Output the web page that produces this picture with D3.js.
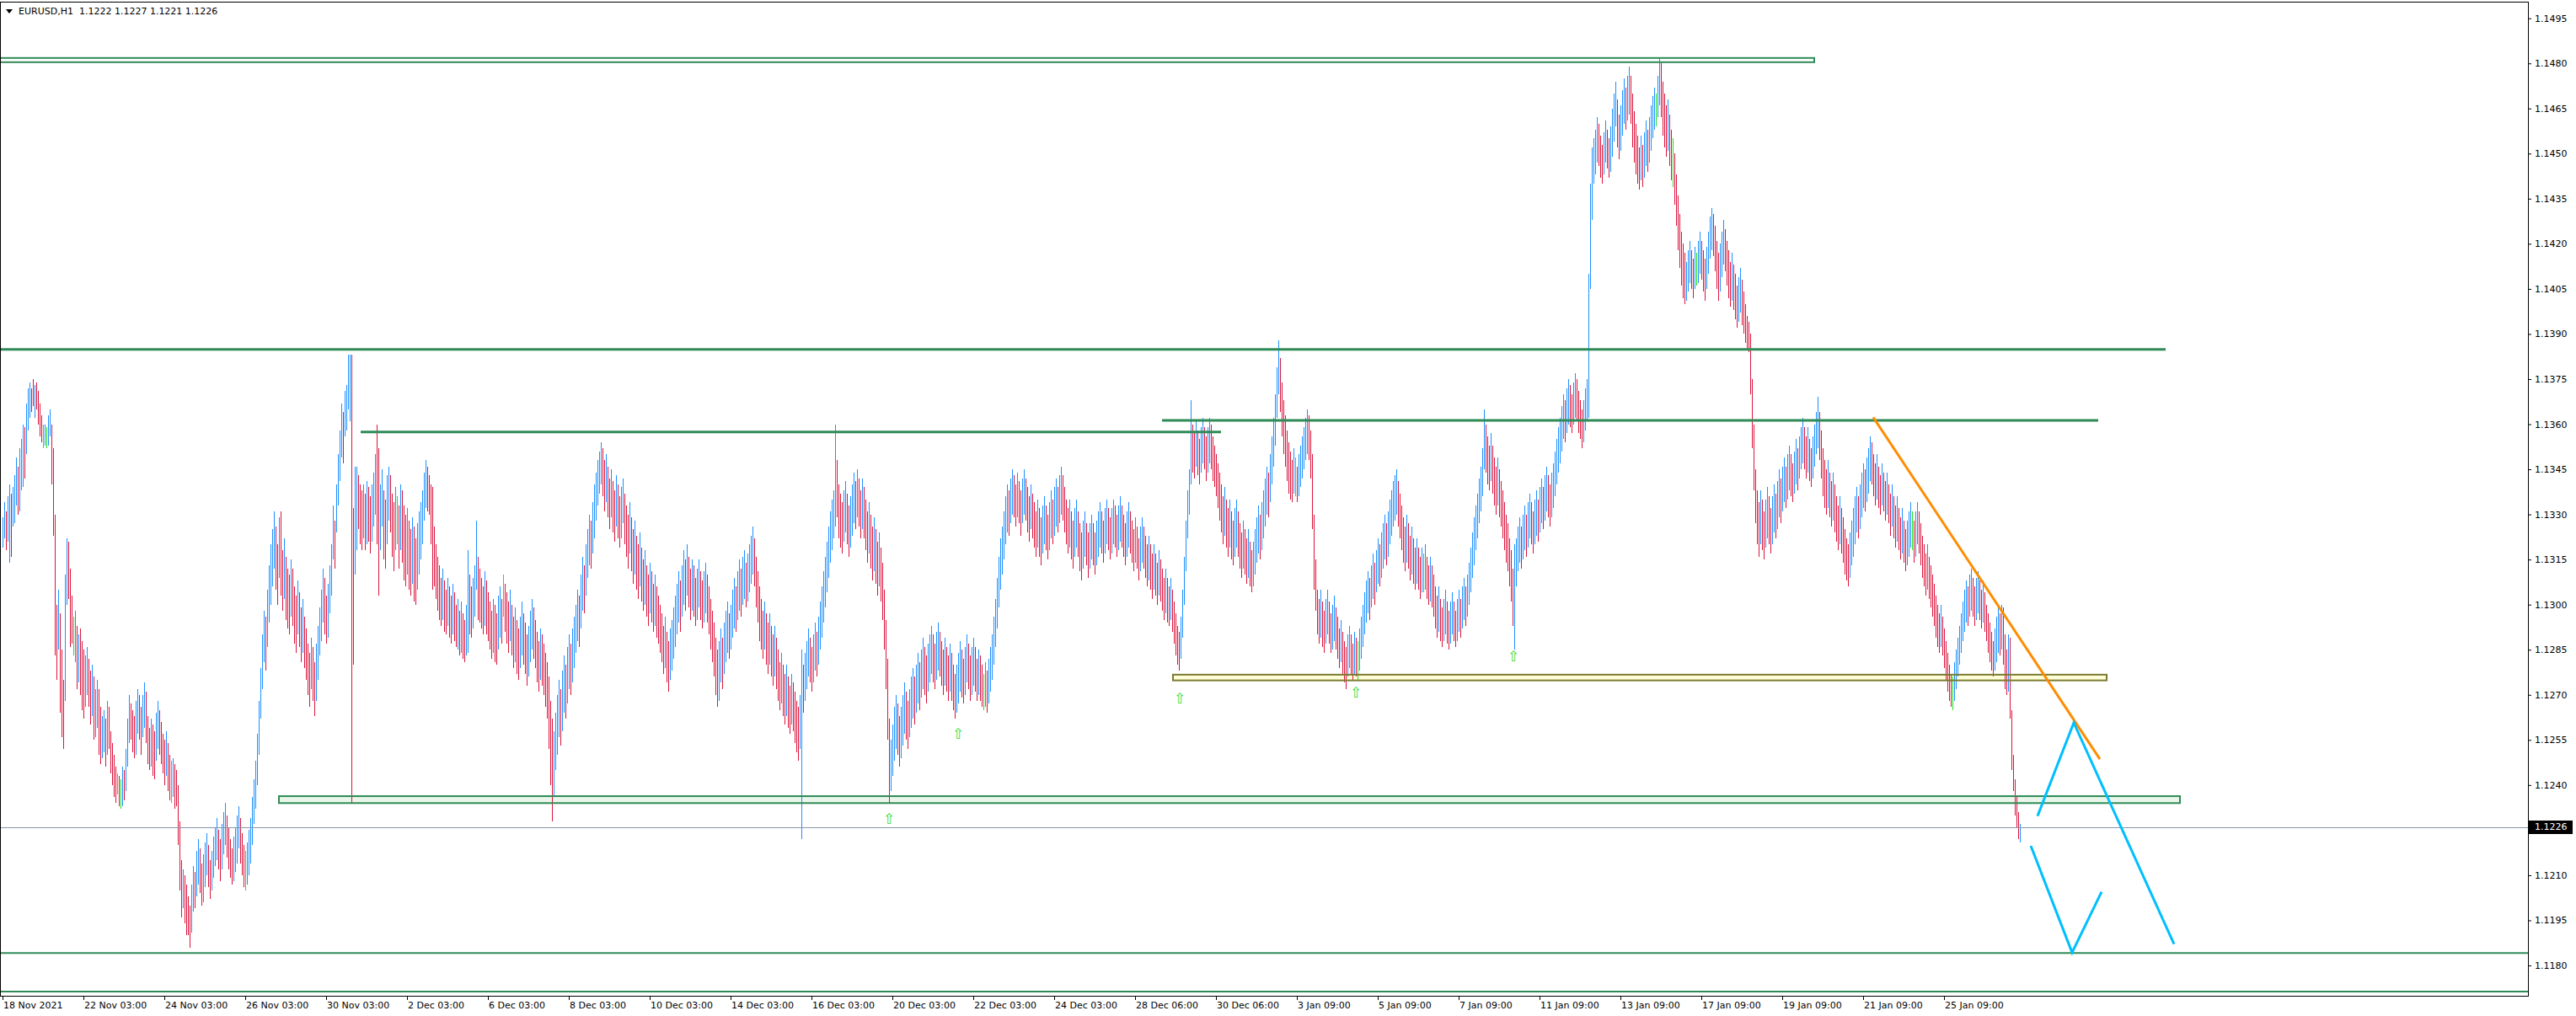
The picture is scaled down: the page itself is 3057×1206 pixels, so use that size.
<!DOCTYPE html>
<html><head><meta charset="utf-8">
<script src="https://cdn.jsdelivr.net/npm/d3@7"></script>
<style>html,body{margin:0;padding:0;background:#fff;overflow:hidden}</style>
</head><body>
<svg id="c" width="3057" height="1206"></svg>
<script>
// ---------- DATA ----------
const symbolTitle = "EURUSD,H1";
const lastOHLC = [1.1222, 1.1227, 1.1221, 1.1226];
const currentPrice = 1.1226;

// hourly bars (high / low / direction: 1 bull, -1 bear, 0 doji)
const highs = [
1.1329,1.1334,1.1331,1.1336,1.1340,1.1337,1.1339,1.1343,1.1349,1.1346,
1.1352,1.1355,1.1360,1.1359,1.1367,1.1372,1.1374,1.1372,1.1375,1.1373,
1.1374,1.1371,1.1367,1.1363,1.1360,1.1360,1.1359,1.1363,1.1365,1.1360,
1.1352,1.1330,1.1300,1.1305,1.1297,1.1285,1.1275,1.1310,1.1322,1.1321,
1.1312,1.1303,1.1296,1.1298,1.1293,1.1290,1.1292,1.1288,1.1285,1.1283,
1.1286,1.1282,1.1278,1.1280,1.1276,1.1272,1.1275,1.1272,1.1266,1.1263,
1.1265,1.1262,1.1268,1.1266,1.1258,1.1254,1.1250,1.1246,1.1244,1.1243,
1.1242,1.1246,1.1245,1.1252,1.1262,1.1270,1.1267,1.1265,1.1263,1.1268,
1.1272,1.1270,1.1266,1.1270,1.1274,1.1271,1.1263,1.1259,1.1262,1.1260,
1.1258,1.1264,1.1268,1.1265,1.1261,1.1257,1.1255,1.1258,1.1254,1.1250,
1.1248,1.1249,1.1247,1.1245,1.1240,1.1228,1.1215,1.1212,1.1210,1.1207,
1.1203,1.1200,1.1207,1.1213,1.1211,1.1218,1.1222,1.1219,1.1214,1.1217,
1.1221,1.1224,1.1220,1.1215,1.1218,1.1223,1.1226,1.1229,1.1225,1.1222,
1.1227,1.1231,1.1234,1.1230,1.1226,1.1222,1.1219,1.1223,1.1226,1.1230,
1.1233,1.1229,1.1224,1.1220,1.1218,1.1221,1.1225,1.1229,1.1236,1.1242,
1.1248,1.1257,1.1268,1.1279,1.1290,1.1298,1.1296,1.1305,1.1313,1.1320,
1.1325,1.1331,1.1326,1.1320,1.1329,1.1331,1.1318,1.1322,1.1316,1.1312,
1.1310,1.1315,1.1312,1.1306,1.1303,1.1308,1.1304,1.1299,1.1302,1.1296,
1.1292,1.1287,1.1284,1.1289,1.1286,1.1281,1.1287,1.1293,1.1299,1.1305,
1.1312,1.1309,1.1303,1.1307,1.1313,1.1320,1.1333,1.1328,1.1340,1.1350,
1.1358,1.1367,1.1364,1.1371,1.1373,1.1383,1.1383,1.1383,1.1332,1.1346,
1.1346,1.1343,1.1340,1.1338,1.1340,1.1337,1.1341,1.1339,1.1336,1.1340,
1.1344,1.1350,1.1360,1.1352,1.1340,1.1345,1.1338,1.1335,1.1343,1.1346,
1.1343,1.1337,1.1334,1.1339,1.1336,1.1333,1.1340,1.1338,1.1333,1.1330,
1.1332,1.1328,1.1325,1.1329,1.1326,1.1322,1.1327,1.1331,1.1334,1.1338,
1.1344,1.1348,1.1346,1.1343,1.1340,1.1339,1.1326,1.1320,1.1316,1.1313,
1.1309,1.1312,1.1308,1.1305,1.1309,1.1306,1.1303,1.1307,1.1304,1.1300,
1.1302,1.1298,1.1301,1.1297,1.1295,1.1300,1.1318,1.1310,1.1306,1.1309,
1.1313,1.1328,1.1316,1.1312,1.1309,1.1306,1.1311,1.1308,1.1304,1.1301,
1.1298,1.1302,1.1300,1.1297,1.1303,1.1306,1.1302,1.1310,1.1307,1.1304,
1.1301,1.1305,1.1300,1.1296,1.1299,1.1295,1.1292,1.1296,1.1301,1.1297,
1.1294,1.1290,1.1293,1.1298,1.1302,1.1299,1.1295,1.1291,1.1288,1.1292,
1.1290,1.1287,1.1284,1.1281,1.1276,1.1268,1.1262,1.1258,1.1264,1.1270,
1.1275,1.1272,1.1278,1.1283,1.1280,1.1286,1.1290,1.1287,1.1292,1.1296,
1.1300,1.1305,1.1303,1.1310,1.1316,1.1313,1.1320,1.1325,1.1330,1.1328,
1.1334,1.1340,1.1344,1.1348,1.1351,1.1354,1.1352,1.1348,1.1350,1.1346,
1.1342,1.1345,1.1341,1.1338,1.1343,1.1340,1.1336,1.1339,1.1342,1.1337,
1.1333,1.1330,1.1334,1.1329,1.1325,1.1328,1.1323,1.1320,1.1324,1.1319,
1.1315,1.1318,1.1313,1.1310,1.1314,1.1311,1.1307,1.1310,1.1306,1.1303,
1.1300,1.1297,1.1293,1.1296,1.1291,1.1288,1.1292,1.1295,1.1299,1.1303,
1.1307,1.1311,1.1308,1.1313,1.1318,1.1315,1.1320,1.1316,1.1312,1.1315,
1.1313,1.1309,1.1312,1.1315,1.1311,1.1308,1.1311,1.1314,1.1310,1.1306,
1.1302,1.1298,1.1294,1.1289,1.1285,1.1288,1.1292,1.1289,1.1294,1.1298,
1.1301,1.1297,1.1300,1.1305,1.1309,1.1306,1.1311,1.1315,1.1312,1.1316,
1.1318,1.1314,1.1317,1.1320,1.1323,1.1326,1.1322,1.1316,1.1311,1.1306,
1.1302,1.1298,1.1301,1.1297,1.1294,1.1297,1.1293,1.1290,1.1293,1.1289,
1.1285,1.1281,1.1284,1.1280,1.1277,1.1280,1.1276,1.1273,1.1277,1.1274,
1.1271,1.1268,1.1266,1.1270,1.1285,1.1280,1.1284,1.1288,1.1292,1.1289,
1.1286,1.1290,1.1294,1.1291,1.1296,1.1301,1.1306,1.1311,1.1316,1.1321,
1.1326,1.1331,1.1335,1.1338,1.1360,1.1348,1.1340,1.1337,1.1334,1.1338,
1.1341,1.1337,1.1333,1.1336,1.1340,1.1344,1.1341,1.1345,1.1342,1.1338,
1.1342,1.1339,1.1335,1.1331,1.1334,1.1330,1.1326,1.1329,1.1325,1.1321,
1.1324,1.1319,1.1314,1.1305,1.1295,1.1282,1.1262,1.1255,1.1260,1.1266,
1.1270,1.1267,1.1263,1.1266,1.1270,1.1274,1.1271,1.1268,1.1272,1.1276,
1.1279,1.1276,1.1280,1.1284,1.1281,1.1285,1.1289,1.1286,1.1283,1.1287,
1.1290,1.1293,1.1290,1.1287,1.1291,1.1294,1.1291,1.1288,1.1285,1.1289,
1.1286,1.1283,1.1287,1.1284,1.1280,1.1277,1.1280,1.1284,1.1288,1.1285,
1.1282,1.1286,1.1290,1.1287,1.1283,1.1286,1.1289,1.1286,1.1282,1.1285,
1.1283,1.1280,1.1277,1.1281,1.1278,1.1282,1.1286,1.1290,1.1296,1.1302,
1.1309,1.1316,1.1322,1.1326,1.1331,1.1336,1.1340,1.1338,1.1342,1.1345,
1.1343,1.1340,1.1344,1.1341,1.1338,1.1342,1.1345,1.1342,1.1339,1.1336,
1.1340,1.1337,1.1334,1.1331,1.1335,1.1332,1.1329,1.1333,1.1336,1.1333,
1.1330,1.1334,1.1338,1.1335,1.1339,1.1342,1.1339,1.1343,1.1346,1.1343,
1.1339,1.1335,1.1332,1.1335,1.1331,1.1328,1.1332,1.1335,1.1331,1.1327,
1.1324,1.1328,1.1331,1.1327,1.1324,1.1327,1.1330,1.1327,1.1324,1.1328,
1.1331,1.1334,1.1331,1.1328,1.1332,1.1335,1.1332,1.1329,1.1332,1.1335,
1.1333,1.1330,1.1333,1.1336,1.1333,1.1330,1.1327,1.1331,1.1334,1.1331,
1.1328,1.1325,1.1329,1.1326,1.1322,1.1326,1.1329,1.1326,1.1323,1.1320,
1.1323,1.1320,1.1317,1.1320,1.1317,1.1314,1.1318,1.1315,1.1312,1.1309,
1.1312,1.1309,1.1306,1.1309,1.1305,1.1301,1.1297,1.1293,1.1291,1.1296,
1.1305,1.1316,1.1328,1.1338,1.1345,1.1368,1.1360,1.1357,1.1361,1.1358,
1.1355,1.1359,1.1362,1.1359,1.1356,1.1359,1.1362,1.1360,1.1356,1.1353,
1.1350,1.1347,1.1344,1.1340,1.1336,1.1339,1.1335,1.1332,1.1335,1.1331,
1.1328,1.1332,1.1335,1.1331,1.1327,1.1324,1.1328,1.1325,1.1322,1.1325,
1.1321,1.1318,1.1321,1.1325,1.1329,1.1333,1.1330,1.1334,1.1338,1.1342,
1.1346,1.1344,1.1350,1.1356,1.1362,1.1370,1.1379,1.1388,1.1382,1.1374,
1.1368,1.1363,1.1358,1.1354,1.1351,1.1348,1.1352,1.1349,1.1346,1.1350,
1.1353,1.1356,1.1359,1.1362,1.1365,1.1363,1.1358,1.1350,1.1330,1.1315,
1.1305,1.1302,1.1305,1.1301,1.1298,1.1302,1.1305,1.1301,1.1297,1.1300,
1.1303,1.1299,1.1296,1.1292,1.1295,1.1291,1.1288,1.1286,1.1290,1.1293,
1.1290,1.1287,1.1291,1.1289,1.1288,1.1292,1.1296,1.1300,1.1304,1.1308,
1.1311,1.1309,1.1313,1.1317,1.1314,1.1318,1.1322,1.1320,1.1324,1.1327,
1.1330,1.1327,1.1331,1.1335,1.1338,1.1341,1.1343,1.1345,1.1341,1.1337,
1.1333,1.1329,1.1326,1.1330,1.1327,1.1323,1.1326,1.1322,1.1319,1.1322,
1.1319,1.1316,1.1319,1.1317,1.1320,1.1316,1.1313,1.1316,1.1313,1.1310,
1.1306,1.1303,1.1306,1.1302,1.1299,1.1302,1.1305,1.1301,1.1298,1.1301,
1.1304,1.1301,1.1298,1.1302,1.1305,1.1302,1.1306,1.1309,1.1306,1.1310,
1.1314,1.1319,1.1324,1.1329,1.1333,1.1337,1.1342,1.1346,1.1352,1.1365,
1.1360,1.1356,1.1353,1.1357,1.1353,1.1349,1.1346,1.1349,1.1345,1.1341,
1.1338,1.1334,1.1330,1.1327,1.1322,1.1318,1.1312,1.1320,1.1322,1.1326,
1.1329,1.1326,1.1330,1.1333,1.1330,1.1334,1.1337,1.1334,1.1331,1.1335,
1.1338,1.1335,1.1339,1.1342,1.1339,1.1343,1.1346,1.1343,1.1340,1.1344,
1.1347,1.1351,1.1355,1.1359,1.1362,1.1366,1.1370,1.1368,1.1372,1.1375,
1.1373,1.1370,1.1374,1.1377,1.1375,1.1371,1.1368,1.1365,1.1368,1.1372,
1.1375,1.1410,1.1440,1.1452,1.1455,1.1458,1.1462,1.1460,1.1456,1.1453,
1.1457,1.1461,1.1458,1.1455,1.1459,1.1465,1.1470,1.1474,1.1468,1.1463,
1.1466,1.1471,1.1475,1.1472,1.1476,1.1479,1.1476,1.1470,1.1464,1.1460,
1.1456,1.1452,1.1456,1.1453,1.1457,1.1461,1.1458,1.1462,1.1466,1.1469,
1.1472,1.1470,1.1476,1.1482,1.1480,1.1474,1.1470,1.1466,1.1468,1.1463,
1.1458,1.1455,1.1450,1.1443,1.1436,1.1430,1.1424,1.1420,1.1417,1.1414,
1.1418,1.1421,1.1418,1.1415,1.1419,1.1417,1.1421,1.1424,1.1421,1.1418,
1.1415,1.1419,1.1424,1.1429,1.1432,1.1430,1.1426,1.1421,1.1417,1.1420,
1.1424,1.1428,1.1425,1.1421,1.1418,1.1414,1.1417,1.1413,1.1410,1.1406,
1.1409,1.1412,1.1408,1.1404,1.1400,1.1396,1.1394,1.1390,1.1375,1.1360,
1.1345,1.1338,1.1334,1.1338,1.1335,1.1331,1.1335,1.1339,1.1336,1.1332,
1.1336,1.1340,1.1337,1.1341,1.1345,1.1342,1.1346,1.1349,1.1346,1.1350,
1.1353,1.1350,1.1347,1.1351,1.1355,1.1352,1.1356,1.1359,1.1362,1.1359,
1.1356,1.1359,1.1355,1.1352,1.1356,1.1360,1.1364,1.1369,1.1364,1.1358,
1.1352,1.1348,1.1345,1.1348,1.1344,1.1341,1.1344,1.1340,1.1336,1.1333,
1.1336,1.1332,1.1329,1.1325,1.1322,1.1320,1.1324,1.1328,1.1332,1.1336,
1.1339,1.1336,1.1340,1.1344,1.1347,1.1345,1.1349,1.1352,1.1356,1.1354,
1.1350,1.1347,1.1350,1.1346,1.1343,1.1347,1.1344,1.1341,1.1344,1.1340,
1.1337,1.1340,1.1336,1.1333,1.1336,1.1332,1.1329,1.1332,1.1328,1.1325,
1.1328,1.1331,1.1334,1.1331,1.1328,1.1331,1.1334,1.1331,1.1327,1.1323,
1.1320,1.1317,1.1320,1.1316,1.1313,1.1310,1.1307,1.1303,1.1300,1.1297,
1.1300,1.1296,1.1292,1.1288,1.1284,1.1280,1.1277,1.1276,1.1281,1.1285,
1.1289,1.1293,1.1297,1.1301,1.1305,1.1308,1.1306,1.1310,1.1312,1.1309,
1.1306,1.1309,1.1311,1.1308,1.1305,1.1308,1.1304,1.1300,1.1297,1.1294,
1.1291,1.1288,1.1292,1.1296,1.1299,1.1297,1.1300,1.1299,1.1290,1.1285,
1.1290,1.1289,1.1265,1.1250,1.1242,1.1236,1.1231,1.1227];

const lows = [
1.1319,1.1322,1.1318,1.1321,1.1314,1.1316,1.1326,1.1327,1.1333,1.1330,
1.1331,1.1338,1.1339,1.1342,1.1350,1.1358,1.1362,1.1364,1.1366,1.1362,
1.1365,1.1360,1.1356,1.1354,1.1352,1.1353,1.1352,1.1353,1.1356,1.1340,
1.1323,1.1283,1.1275,1.1285,1.1264,1.1256,1.1252,1.1268,1.1300,1.1302,
1.1286,1.1287,1.1283,1.1281,1.1272,1.1274,1.1270,1.1265,1.1262,1.1266,
1.1270,1.1266,1.1260,1.1263,1.1255,1.1256,1.1259,1.1250,1.1247,1.1249,
1.1251,1.1246,1.1250,1.1252,1.1244,1.1240,1.1236,1.1234,1.1237,1.1233,
1.1232,1.1233,1.1235,1.1238,1.1246,1.1254,1.1255,1.1251,1.1249,1.1250,
1.1257,1.1255,1.1250,1.1256,1.1259,1.1254,1.1247,1.1245,1.1246,1.1243,
1.1242,1.1248,1.1252,1.1250,1.1247,1.1244,1.1240,1.1243,1.1238,1.1235,
1.1234,1.1236,1.1232,1.1233,1.1220,1.1205,1.1196,1.1199,1.1194,1.1190,
1.1190,1.1186,1.1191,1.1198,1.1199,1.1203,1.1207,1.1204,1.1200,1.1201,
1.1206,1.1210,1.1206,1.1202,1.1205,1.1209,1.1213,1.1215,1.1212,1.1208,
1.1212,1.1217,1.1220,1.1216,1.1212,1.1209,1.1207,1.1208,1.1211,1.1214,
1.1219,1.1214,1.1210,1.1206,1.1205,1.1207,1.1210,1.1214,1.1220,1.1227,
1.1232,1.1240,1.1250,1.1262,1.1272,1.1281,1.1278,1.1286,1.1294,1.1300,
1.1306,1.1312,1.1305,1.1300,1.1309,1.1303,1.1298,1.1302,1.1295,1.1292,
1.1290,1.1296,1.1293,1.1287,1.1284,1.1290,1.1286,1.1281,1.1284,1.1279,
1.1275,1.1270,1.1266,1.1272,1.1268,1.1263,1.1268,1.1275,1.1283,1.1288,
1.1294,1.1290,1.1287,1.1289,1.1297,1.1303,1.1315,1.1312,1.1324,1.1333,
1.1341,1.1349,1.1347,1.1356,1.1358,1.1365,1.1361,1.1234,1.1280,1.1310,
1.1318,1.1325,1.1320,1.1318,1.1322,1.1318,1.1320,1.1321,1.1317,1.1321,
1.1326,1.1330,1.1320,1.1303,1.1318,1.1326,1.1315,1.1312,1.1320,1.1328,
1.1324,1.1316,1.1311,1.1318,1.1320,1.1312,1.1318,1.1314,1.1308,1.1306,
1.1310,1.1305,1.1303,1.1307,1.1301,1.1300,1.1305,1.1310,1.1315,1.1320,
1.1328,1.1332,1.1331,1.1330,1.1320,1.1305,1.1306,1.1302,1.1298,1.1295,
1.1293,1.1295,1.1291,1.1290,1.1293,1.1289,1.1287,1.1290,1.1288,1.1286,
1.1285,1.1283,1.1284,1.1282,1.1281,1.1283,1.1284,1.1290,1.1289,1.1292,
1.1296,1.1305,1.1295,1.1294,1.1292,1.1290,1.1293,1.1290,1.1288,1.1285,
1.1282,1.1284,1.1281,1.1280,1.1285,1.1289,1.1287,1.1296,1.1291,1.1287,
1.1284,1.1288,1.1283,1.1279,1.1281,1.1277,1.1275,1.1279,1.1283,1.1280,
1.1277,1.1273,1.1276,1.1281,1.1285,1.1282,1.1279,1.1274,1.1271,1.1275,
1.1273,1.1270,1.1266,1.1262,1.1252,1.1240,1.1228,1.1236,1.1245,1.1250,
1.1256,1.1253,1.1258,1.1264,1.1262,1.1267,1.1272,1.1270,1.1274,1.1279,
1.1284,1.1288,1.1286,1.1292,1.1298,1.1297,1.1303,1.1309,1.1313,1.1312,
1.1317,1.1322,1.1328,1.1333,1.1337,1.1340,1.1336,1.1331,1.1334,1.1329,
1.1325,1.1329,1.1324,1.1321,1.1326,1.1322,1.1319,1.1322,1.1327,1.1320,
1.1316,1.1312,1.1317,1.1311,1.1307,1.1310,1.1305,1.1302,1.1306,1.1301,
1.1298,1.1300,1.1296,1.1293,1.1297,1.1294,1.1291,1.1293,1.1289,1.1287,
1.1284,1.1281,1.1277,1.1279,1.1274,1.1271,1.1275,1.1278,1.1282,1.1286,
1.1290,1.1294,1.1291,1.1296,1.1300,1.1298,1.1303,1.1299,1.1295,1.1298,
1.1296,1.1293,1.1295,1.1299,1.1295,1.1292,1.1294,1.1297,1.1294,1.1290,
1.1285,1.1281,1.1276,1.1270,1.1266,1.1268,1.1274,1.1272,1.1277,1.1281,
1.1284,1.1282,1.1285,1.1289,1.1292,1.1291,1.1295,1.1298,1.1296,1.1300,
1.1302,1.1299,1.1301,1.1304,1.1307,1.1310,1.1306,1.1299,1.1294,1.1288,
1.1285,1.1282,1.1285,1.1280,1.1277,1.1280,1.1276,1.1273,1.1276,1.1272,
1.1268,1.1265,1.1267,1.1263,1.1260,1.1263,1.1259,1.1257,1.1260,1.1258,
1.1254,1.1251,1.1248,1.1252,1.1222,1.1264,1.1268,1.1272,1.1276,1.1274,
1.1271,1.1274,1.1278,1.1276,1.1280,1.1285,1.1289,1.1294,1.1299,1.1304,
1.1309,1.1314,1.1318,1.1322,1.1326,1.1329,1.1322,1.1319,1.1317,1.1321,
1.1324,1.1320,1.1316,1.1319,1.1323,1.1327,1.1325,1.1329,1.1326,1.1322,
1.1325,1.1322,1.1318,1.1314,1.1317,1.1312,1.1308,1.1311,1.1307,1.1303,
1.1306,1.1301,1.1295,1.1285,1.1272,1.1255,1.1234,1.1238,1.1243,1.1248,
1.1252,1.1250,1.1246,1.1249,1.1253,1.1257,1.1255,1.1252,1.1256,1.1259,
1.1262,1.1260,1.1264,1.1267,1.1265,1.1269,1.1272,1.1270,1.1267,1.1271,
1.1274,1.1277,1.1274,1.1272,1.1275,1.1278,1.1276,1.1273,1.1270,1.1273,
1.1271,1.1268,1.1271,1.1268,1.1265,1.1262,1.1264,1.1267,1.1271,1.1269,
1.1267,1.1270,1.1274,1.1272,1.1268,1.1270,1.1273,1.1271,1.1268,1.1270,
1.1268,1.1266,1.1265,1.1266,1.1264,1.1267,1.1271,1.1275,1.1280,1.1286,
1.1292,1.1299,1.1305,1.1310,1.1315,1.1320,1.1324,1.1323,1.1327,1.1330,
1.1329,1.1326,1.1329,1.1327,1.1323,1.1327,1.1330,1.1328,1.1324,1.1321,
1.1325,1.1322,1.1319,1.1316,1.1319,1.1316,1.1313,1.1317,1.1320,1.1318,
1.1315,1.1318,1.1322,1.1320,1.1323,1.1326,1.1324,1.1327,1.1330,1.1328,
1.1324,1.1320,1.1317,1.1319,1.1315,1.1312,1.1316,1.1319,1.1316,1.1311,
1.1308,1.1312,1.1316,1.1313,1.1309,1.1312,1.1315,1.1313,1.1310,1.1313,
1.1316,1.1319,1.1317,1.1314,1.1317,1.1320,1.1318,1.1315,1.1317,1.1320,
1.1319,1.1316,1.1318,1.1321,1.1319,1.1316,1.1313,1.1316,1.1319,1.1317,
1.1314,1.1311,1.1314,1.1312,1.1308,1.1311,1.1314,1.1312,1.1309,1.1306,
1.1308,1.1305,1.1302,1.1305,1.1303,1.1300,1.1303,1.1301,1.1298,1.1295,
1.1297,1.1294,1.1293,1.1295,1.1291,1.1287,1.1283,1.1280,1.1278,1.1282,
1.1289,1.1300,1.1311,1.1322,1.1330,1.1340,1.1344,1.1342,1.1346,1.1343,
1.1340,1.1344,1.1347,1.1345,1.1341,1.1344,1.1347,1.1345,1.1341,1.1339,
1.1336,1.1332,1.1328,1.1324,1.1320,1.1323,1.1319,1.1316,1.1319,1.1315,
1.1313,1.1316,1.1319,1.1316,1.1312,1.1309,1.1312,1.1310,1.1307,1.1309,
1.1306,1.1304,1.1306,1.1310,1.1314,1.1317,1.1315,1.1318,1.1322,1.1326,
1.1330,1.1329,1.1334,1.1340,1.1346,1.1353,1.1362,1.1370,1.1364,1.1356,
1.1350,1.1346,1.1341,1.1337,1.1335,1.1334,1.1337,1.1336,1.1334,1.1336,
1.1339,1.1342,1.1345,1.1348,1.1350,1.1348,1.1342,1.1325,1.1305,1.1298,
1.1290,1.1287,1.1289,1.1286,1.1284,1.1287,1.1290,1.1287,1.1284,1.1285,
1.1288,1.1285,1.1282,1.1279,1.1281,1.1277,1.1274,1.1272,1.1276,1.1279,
1.1277,1.1275,1.1277,1.1276,1.1275,1.1278,1.1282,1.1286,1.1290,1.1294,
1.1297,1.1295,1.1299,1.1302,1.1300,1.1304,1.1307,1.1306,1.1309,1.1312,
1.1315,1.1313,1.1316,1.1320,1.1323,1.1326,1.1328,1.1330,1.1326,1.1322,
1.1318,1.1314,1.1311,1.1314,1.1312,1.1308,1.1310,1.1307,1.1305,1.1307,
1.1305,1.1302,1.1304,1.1304,1.1305,1.1302,1.1300,1.1301,1.1299,1.1296,
1.1292,1.1289,1.1291,1.1288,1.1286,1.1288,1.1290,1.1287,1.1285,1.1287,
1.1290,1.1288,1.1286,1.1288,1.1291,1.1289,1.1292,1.1295,1.1293,1.1296,
1.1300,1.1304,1.1309,1.1313,1.1318,1.1322,1.1327,1.1331,1.1336,1.1345,
1.1344,1.1340,1.1338,1.1341,1.1337,1.1333,1.1330,1.1333,1.1329,1.1326,
1.1322,1.1318,1.1314,1.1311,1.1306,1.1301,1.1293,1.1285,1.1306,1.1311,
1.1314,1.1312,1.1315,1.1318,1.1316,1.1319,1.1322,1.1320,1.1317,1.1320,
1.1323,1.1321,1.1324,1.1327,1.1325,1.1328,1.1331,1.1329,1.1326,1.1329,
1.1332,1.1336,1.1340,1.1344,1.1347,1.1351,1.1355,1.1354,1.1357,1.1360,
1.1359,1.1357,1.1360,1.1362,1.1361,1.1357,1.1355,1.1352,1.1354,1.1358,
1.1361,1.1362,1.1405,1.1428,1.1440,1.1443,1.1447,1.1446,1.1442,1.1440,
1.1443,1.1447,1.1445,1.1442,1.1444,1.1449,1.1454,1.1459,1.1452,1.1448,
1.1451,1.1456,1.1460,1.1458,1.1461,1.1463,1.1460,1.1452,1.1447,1.1443,
1.1440,1.1438,1.1441,1.1439,1.1442,1.1446,1.1444,1.1447,1.1451,1.1455,
1.1458,1.1459,1.1462,1.1466,1.1462,1.1456,1.1452,1.1449,1.1451,1.1446,
1.1441,1.1439,1.1433,1.1426,1.1418,1.1412,1.1406,1.1402,1.1400,1.1401,
1.1404,1.1407,1.1405,1.1402,1.1405,1.1406,1.1407,1.1410,1.1408,1.1404,
1.1401,1.1405,1.1410,1.1415,1.1418,1.1416,1.1411,1.1405,1.1401,1.1404,
1.1409,1.1413,1.1411,1.1406,1.1402,1.1399,1.1401,1.1398,1.1395,1.1392,
1.1394,1.1397,1.1393,1.1390,1.1387,1.1385,1.1384,1.1370,1.1352,1.1338,
1.1327,1.1320,1.1316,1.1320,1.1318,1.1315,1.1319,1.1322,1.1320,1.1317,
1.1320,1.1324,1.1322,1.1325,1.1329,1.1327,1.1331,1.1334,1.1332,1.1335,
1.1338,1.1336,1.1334,1.1337,1.1340,1.1338,1.1342,1.1345,1.1347,1.1345,
1.1342,1.1344,1.1341,1.1339,1.1342,1.1346,1.1350,1.1352,1.1348,1.1342,
1.1336,1.1332,1.1330,1.1332,1.1329,1.1326,1.1328,1.1324,1.1321,1.1318,
1.1320,1.1317,1.1314,1.1310,1.1308,1.1306,1.1309,1.1313,1.1316,1.1320,
1.1324,1.1322,1.1325,1.1329,1.1332,1.1331,1.1334,1.1337,1.1341,1.1340,
1.1336,1.1333,1.1335,1.1332,1.1330,1.1333,1.1331,1.1328,1.1330,1.1327,
1.1323,1.1326,1.1322,1.1319,1.1321,1.1318,1.1315,1.1317,1.1314,1.1311,
1.1313,1.1316,1.1319,1.1318,1.1314,1.1316,1.1320,1.1317,1.1313,1.1309,
1.1306,1.1303,1.1305,1.1302,1.1299,1.1296,1.1293,1.1289,1.1286,1.1284,
1.1286,1.1283,1.1279,1.1275,1.1271,1.1268,1.1266,1.1265,1.1268,1.1272,
1.1276,1.1280,1.1284,1.1288,1.1291,1.1294,1.1293,1.1296,1.1298,1.1296,
1.1293,1.1295,1.1297,1.1295,1.1292,1.1294,1.1291,1.1288,1.1284,1.1281,
1.1278,1.1276,1.1278,1.1281,1.1284,1.1283,1.1285,1.1280,1.1272,1.1270,
1.1271,1.1262,1.1245,1.1238,1.1230,1.1226,1.1222,1.1221];

const dirs = [
1,1,-1,1,1,-1,1,1,1,-1, 1,1,1,-1,1,1,1,-1,-1,1, -1,-1,-1,-1,0,1,0,1,1,-1, -1,-1,-1,1,-1,-1,-1,1,1,-1,
-1,-1,0,1,-1,1,-1,-1,-1,1, 1,-1,-1,1,-1,1,1,-1,-1,1, 1,-1,1,-1,-1,-1,-1,-1,0,-1, 0,1,-1,1,1,1,-1,-1,-1,1,
1,-1,-1,1,1,-1,-1,-1,1,-1, -1,1,1,-1,-1,-1,-1,1,-1,-1, 0,1,-1,-1,-1,-1,-1,1,-1,-1, -1,-1,1,1,-1,1,1,-1,-1,1,
1,1,-1,-1,1,1,1,1,-1,-1, 1,1,1,-1,-1,-1,-1,1,1,1, 1,-1,-1,-1,0,1,1,1,1,1, 1,1,1,1,1,1,-1,1,1,1,
1,1,-1,-1,1,-1,-1,1,-1,-1, -1,1,-1,-1,-1,1,-1,-1,1,-1, -1,-1,-1,1,-1,-1,1,1,1,1, 1,-1,-1,1,1,1,1,-1,1,1,
1,1,-1,1,1,1,1,-1,-1,1, 1,-1,-1,-1,1,-1,1,-1,-1,1, 1,1,-1,-1,1,1,-1,-1,1,1, -1,-1,-1,1,0,-1,1,-1,-1,-1,
1,-1,-1,1,-1,-1,1,1,1,1, 1,1,-1,-1,-1,-1,-1,-1,-1,-1, -1,1,-1,-1,1,-1,-1,1,-1,-1, 1,-1,1,-1,-1,1,1,-1,-1,1,
1,1,-1,-1,-1,-1,1,-1,-1,-1, -1,1,-1,-1,1,1,-1,0,-1,-1, -1,1,-1,-1,1,-1,-1,1,1,-1, -1,-1,1,1,1,-1,-1,-1,-1,1,
-1,-1,-1,-1,-1,-1,-1,1,1,1, 1,-1,1,1,-1,1,1,-1,1,1, 1,1,-1,1,1,-1,1,1,1,-1, 1,1,1,1,1,1,-1,-1,1,-1,
-1,1,-1,-1,1,-1,-1,1,1,-1, -1,-1,1,-1,-1,1,-1,-1,1,-1, -1,1,-1,-1,1,-1,-1,1,-1,-1, -1,-1,-1,1,-1,-1,1,1,1,1,
1,1,-1,1,1,-1,1,-1,-1,1, -1,-1,1,1,-1,-1,1,1,-1,-1, -1,-1,-1,-1,-1,1,1,-1,1,1, 1,-1,1,1,1,-1,1,1,-1,1,
1,-1,1,1,1,1,-1,-1,-1,-1, -1,-1,1,-1,-1,1,-1,-1,1,-1, -1,-1,1,-1,-1,1,-1,-1,1,-1, -1,-1,-1,1,1,-1,1,1,1,-1,
-1,1,1,-1,1,1,1,1,1,1, 1,1,1,1,1,-1,-1,-1,-1,1, 1,-1,-1,1,1,1,-1,1,-1,-1, 1,-1,-1,-1,1,-1,-1,1,-1,-1,
1,-1,-1,-1,-1,-1,-1,1,1,1, 1,-1,-1,1,1,1,-1,-1,1,1, 1,-1,1,1,-1,1,1,-1,-1,1, 1,1,-1,-1,1,1,-1,-1,-1,1,
-1,-1,1,-1,-1,-1,1,1,1,-1, -1,1,1,-1,-1,1,1,-1,-1,1, -1,-1,0,1,-1,1,1,1,1,1, 1,1,1,1,1,1,1,-1,1,1,
-1,-1,1,-1,-1,1,1,-1,-1,-1, 1,-1,-1,-1,1,-1,-1,1,1,-1, -1,1,1,-1,1,1,-1,1,1,-1, -1,-1,-1,1,-1,-1,1,1,-1,-1,
-1,1,1,-1,-1,1,1,-1,-1,1, 1,1,-1,-1,1,1,-1,-1,1,1, -1,-1,1,1,-1,-1,-1,1,1,-1, -1,-1,1,-1,-1,1,1,-1,-1,-1,
1,-1,-1,1,-1,-1,1,-1,-1,-1, 1,-1,-1,1,-1,-1,-1,-1,-1,1, 1,1,1,1,1,1,-1,-1,1,-1, -1,1,1,-1,-1,1,1,-1,-1,-1,
-1,-1,-1,-1,-1,1,-1,-1,1,-1, -1,1,1,-1,-1,-1,1,-1,-1,1, -1,-1,1,1,1,1,-1,1,1,1, 1,-1,1,1,1,1,1,1,-1,-1,
-1,-1,-1,-1,-1,-1,1,0,-1,1, 1,1,1,1,1,-1,-1,-1,-1,-1, -1,-1,1,-1,-1,1,1,-1,-1,1, 1,-1,-1,-1,1,-1,-1,-1,1,1,
-1,-1,1,-1,0,1,1,1,1,1, 1,-1,1,1,-1,1,1,-1,1,1, 1,-1,1,1,1,1,1,1,-1,-1, -1,-1,-1,1,-1,-1,1,-1,-1,1,
-1,-1,1,0,1,-1,-1,1,-1,-1, -1,-1,1,-1,-1,1,1,-1,-1,1, 1,-1,-1,1,1,-1,1,1,-1,1, 1,1,1,1,1,1,1,1,1,1,
-1,-1,-1,1,-1,-1,-1,1,-1,-1, -1,-1,-1,-1,-1,-1,-1,1,1,1, 1,-1,1,1,-1,1,1,-1,-1,1, 1,-1,1,1,-1,1,1,-1,-1,1,
1,1,1,1,1,1,1,-1,1,1, -1,-1,1,1,-1,-1,-1,-1,1,1, 1,1,1,1,1,1,1,-1,-1,-1, 1,1,-1,-1,1,1,1,1,-1,-1,
1,1,1,-1,1,1,-1,-1,-1,-1, -1,-1,1,-1,1,1,-1,1,1,1, 1,0,1,1,-1,-1,-1,-1,1,-1, -1,0,-1,-1,-1,-1,-1,-1,-1,1,
1,1,-1,-1,1,0,1,1,-1,-1, -1,1,1,1,1,-1,-1,-1,-1,1, 1,1,-1,-1,-1,-1,1,-1,-1,-1, 1,1,-1,-1,-1,-1,-1,-1,-1,-1,
-1,-1,-1,1,-1,-1,1,1,-1,-1, 1,1,-1,1,1,-1,1,1,-1,1, 1,-1,-1,1,1,-1,1,1,1,-1, -1,1,-1,-1,1,1,1,1,-1,-1,
-1,-1,-1,1,-1,-1,1,-1,-1,-1, 1,-1,-1,-1,-1,-1,1,1,1,1, 1,-1,1,1,1,-1,1,1,1,-1, -1,-1,1,-1,-1,1,-1,-1,1,-1,
-1,1,-1,-1,1,-1,-1,1,-1,-1, 1,1,1,0,-1,1,1,-1,-1,-1, -1,-1,1,-1,-1,-1,-1,-1,-1,-1, 1,-1,-1,-1,-1,-1,-1,0,1,1,
1,1,1,1,1,1,-1,1,1,-1, -1,1,1,-1,-1,1,-1,-1,-1,-1, -1,-1,1,1,1,-1,1,-1,-1,-1, 1,-1,-1,-1,-1,-1,-1,1];

// time axis
const timeTickBars = [0,48,96,144,192,240,288,336,384,432,480,528,576,624,672,720,768,816,864,912,960,1008,1056,1104,1152];
const timeTickLabels = ["18 Nov 2021","22 Nov 03:00","24 Nov 03:00","26 Nov 03:00","30 Nov 03:00","2 Dec 03:00","6 Dec 03:00","8 Dec 03:00","10 Dec 03:00","14 Dec 03:00","16 Dec 03:00","20 Dec 03:00","22 Dec 03:00","24 Dec 03:00","28 Dec 06:00","30 Dec 06:00","3 Jan 09:00","5 Jan 09:00","7 Jan 09:00","11 Jan 09:00","13 Jan 09:00","17 Jan 09:00","19 Jan 09:00","21 Jan 09:00","25 Jan 09:00"];
// price axis
const priceTicks = [1.1495,1.1480,1.1465,1.1450,1.1435,1.1420,1.1405,1.1390,1.1375,1.1360,1.1345,1.1330,1.1315,1.1300,1.1285,1.1270,1.1255,1.1240,1.1225,1.1210,1.1195,1.1180];

// drawn objects (bar index, price)
const hLines = [
  {from:-1.5, to:1283.5, price:1.13849, w:3},
  {from:212.5, to:723, price:1.13574, w:3},
  {from:688, to:1243.5, price:1.13613, w:3},
  {from:-1.5, to:1498.5, price:1.11841, w:2},
  {from:-1.5, to:1498.5, price:1.11713, w:2}
];
const zoneRects = [
  {from:-1.5, to:1075, top:1.14818, bottom:1.14804, kind:"green", fill:"none"},
  {from:694.5, to:1248.5, top:1.12767, bottom:1.12748, kind:"yellow"},
  {from:164, to:1292, top:1.12363, bottom:1.12340, kind:"green"}
];
const trendOrange = [[1110, 1.13623],[1244.5, 1.12486]];
const projA = [[1207.5,1.12297],[1229,1.12607],[1288.5,1.11871]];
const projB = [[1203.5,1.12198],[1228,1.11843],[1245.5,1.12045]];
const arrowBars = [526, 567, 698.5, 803, 896.5];
const arrowPrices = [1.12285, 1.12568, 1.12686, 1.12706, 1.12826];

// ---------- DRAW ----------
const L = 0, R = 3000, T = 2, B = 1182;
const FONT = "DejaVu Sans, Verdana, sans-serif";
const bull = "#1E90FF", bear = "#DC143C", doji = "#22E022";
const green = "#2E8B57";

const svg = d3.select("#c");
const x = d3.scaleLinear().domain([0, 1498.5]).range([3, 3000]);
const y = d3.scaleLinear().domain([1.1180, 1.1495]).range([1146, 21.7]);

svg.append("defs").append("clipPath").attr("id","clip")
  .append("rect").attr("x",L).attr("y",T).attr("width",R-L).attr("height",B-T);

const plot = svg.append("g").attr("clip-path","url(#clip)");

// rect fills (background)
plot.selectAll("rect.zfill").data(zoneRects).join("rect").attr("class","zfill")
  .attr("x", d=>x(d.from)).attr("y", d=>y(d.top))
  .attr("width", d=>x(d.to)-x(d.from)).attr("height", d=>y(d.bottom)-y(d.top))
  .attr("fill", d=> d.fill==="none" ? "#fff" : (d.kind==="yellow" ? "#FFFFD8" : "#EAF6EA"));

// bars
const bars = highs.map((h,i)=>({i, h, l: lows[i], d: dirs[i]}));
plot.append("g").selectAll("rect").data(bars).join("rect")
  .attr("x", d=>Math.round(x(d.i)))
  .attr("y", d=>Math.round(y(d.h)))
  .attr("width", 1)
  .attr("height", d=>Math.max(1, Math.round(y(d.l))-Math.round(y(d.h))))
  .attr("fill", d=> d.d>0 ? bull : (d.d<0 ? bear : doji))
  .attr("shape-rendering","crispEdges");

// current price line
plot.append("line").attr("x1",L).attr("x2",R)
  .attr("y1",Math.round(y(currentPrice))+0.5).attr("y2",Math.round(y(currentPrice))+0.5)
  .attr("stroke","#8497A8").attr("stroke-width",1);

// horizontal levels
plot.selectAll("line.lvl").data(hLines).join("line").attr("class","lvl")
  .attr("x1", d=>x(d.from)).attr("x2", d=>x(d.to))
  .attr("y1", d=>y(d.price)).attr("y2", d=>y(d.price))
  .attr("stroke", green).attr("stroke-width", d=>d.w);

// rect outlines
plot.selectAll("rect.zout").data(zoneRects).join("rect").attr("class","zout")
  .attr("x", d=>x(d.from)).attr("y", d=>y(d.top))
  .attr("width", d=>x(d.to)-x(d.from)).attr("height", d=>y(d.bottom)-y(d.top))
  .attr("fill","none")
  .attr("stroke", d=> d.kind==="yellow" ? "#7A7A32" : green).attr("stroke-width",2);

// trend & projection lines
const ln = d3.line().x(d=>x(d[0])).y(d=>y(d[1]));
plot.append("path").attr("d", ln(trendOrange)).attr("fill","none").attr("stroke","#FF8C00").attr("stroke-width",3);
[projA, projB].forEach(p=>{
  plot.append("path").attr("d", ln(p)).attr("fill","none").attr("stroke","#00BFFF").attr("stroke-width",3)
    .attr("stroke-linejoin","miter");
});

// arrows
plot.selectAll("text.arr").data(arrowBars).join("text").attr("class","arr")
  .attr("x", d=>x(d)).attr("y", (d,k)=>y(arrowPrices[k]))
  .attr("text-anchor","middle").attr("dominant-baseline","middle")
  .attr("font-family", FONT).attr("font-size", 17).attr("fill","#33DD33")
  .text("\u21E7");

// frame
svg.append("rect").attr("x",0.5).attr("y",T+0.5).attr("width",R-0.5).attr("height",B-T)
  .attr("fill","none").attr("stroke","#000").attr("stroke-width",1).attr("shape-rendering","crispEdges");

// bottom time axis
const xAxis = svg.append("g").attr("transform",`translate(0,${B})`);
xAxis.selectAll("line").data(timeTickBars).join("line")
  .attr("x1", d=>Math.round(x(d))+0.5).attr("x2", d=>Math.round(x(d))+0.5)
  .attr("y1",0).attr("y2",5).attr("stroke","#000");
xAxis.selectAll("text").data(timeTickBars).join("text")
  .attr("x", d=>Math.round(x(d))+1).attr("y",15)
  .attr("font-family",FONT).attr("font-size",11).attr("fill","#000")
  .text((d,k)=>timeTickLabels[k]);

// right price axis
const yAxis = d3.axisRight(y).tickValues(priceTicks).tickFormat(d3.format(".4f")).tickSize(4).tickPadding(4);
const ya = svg.append("g").attr("transform",`translate(${R},0)`).call(yAxis);
ya.select(".domain").remove();
ya.selectAll("text").attr("font-family",FONT).attr("font-size",11).attr("fill","#000");
ya.selectAll("line").attr("stroke","#000");

// current price label
const cy = Math.round(y(currentPrice));
svg.append("rect").attr("x",R+1).attr("y",cy-8).attr("width",52).attr("height",16).attr("fill","#000");
svg.append("text").attr("x",R+8).attr("y",cy).attr("dominant-baseline","middle")
  .attr("font-family",FONT).attr("font-size",11).attr("fill","#fff").text(d3.format(".4f")(currentPrice));

// header
svg.append("path").attr("d","M7,11 L15,11 L11,16 Z").attr("fill","#000");
svg.append("text").attr("x",22).attr("y",17).attr("font-family",FONT).attr("font-size",11).attr("fill","#000")
  .attr("xml:space","preserve").style("white-space","pre")
  .text(symbolTitle + "  " + lastOHLC.map(d3.format(".4f")).join(" "));
</script>
</body></html>
